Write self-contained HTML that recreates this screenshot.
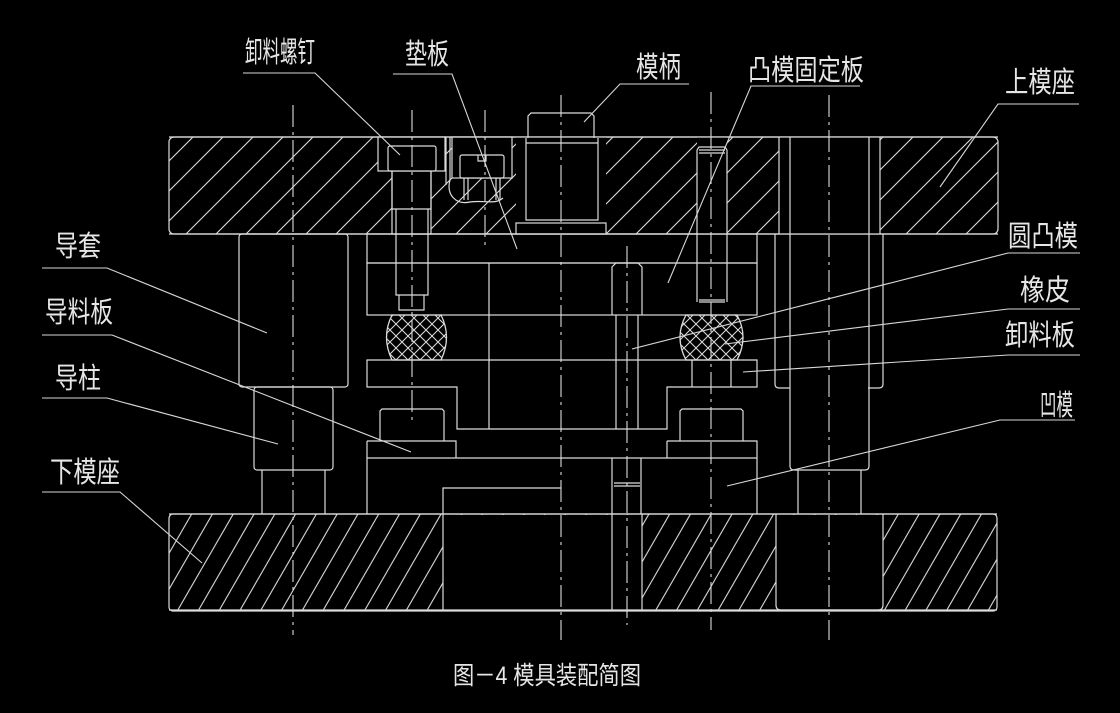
<!DOCTYPE html>
<html><head><meta charset="utf-8"><style>
html,body{margin:0;padding:0;background:#000;}
svg{display:block;}
text{font-family:"Liberation Sans","Noto Sans CJK SC","WenQuanYi Zen Hei",sans-serif;fill:#e6e6e6;font-size:29px;}
</style></head><body>
<svg width="1120" height="713" viewBox="0 0 1120 713" xmlns="http://www.w3.org/2000/svg">
<defs>
<pattern id="h1" patternUnits="userSpaceOnUse" width="30" height="30">
<line x1="-1" y1="31" x2="31" y2="-1" stroke="#ddd" stroke-width="1.1"/>
<line x1="-16" y1="16" x2="16" y2="-16" stroke="#ddd" stroke-width="1.1"/>
<line x1="14" y1="46" x2="46" y2="14" stroke="#ddd" stroke-width="1.1"/>
</pattern>
<pattern id="h2" patternUnits="userSpaceOnUse" width="18" height="40" patternTransform="rotate(30)">
<line x1="9" y1="0" x2="9" y2="40" stroke="#ddd" stroke-width="1.1"/>
</pattern>
<pattern id="x" patternUnits="userSpaceOnUse" width="12" height="12">
<path d="M0 0L12 12M12 0L0 12" stroke="#ddd" stroke-width="1"/>
</pattern>
</defs>
<g stroke="#dcdcdc" stroke-width="1.2" fill="none">
<rect x="169" y="137" width="829" height="97" rx="5" fill="url(#h1)"/>
<rect x="378" y="137" width="67" height="34" fill="#000"/>
<rect x="392" y="171" width="39" height="63" fill="#000"/>
<path d="M446 137V185 M450 137V180" />
<path d="M450 180 C446 195,456 205,470 202 C485 200,495 205,503 198" />
<rect x="452" y="137" width="60" height="41" fill="#000"/>
<rect x="516" y="137" width="90" height="97" fill="#000" stroke="none"/>
<rect x="697" y="137" width="30" height="97" fill="#000" stroke="none"/>
<rect x="779" y="137" width="101" height="97" fill="#000" stroke="none"/>
<path d="M779 137V234 M880 137V234"/>
<line x1="169" y1="137" x2="998" y2="137"/>
<line x1="169" y1="234" x2="998" y2="234"/>
<rect x="388" y="146" width="48" height="25" rx="2" fill="#000"/>
<path d="M392 171V209H431V171 M396 209V295H428V209 M399 295V310H424V295"/>
<rect x="460" y="155" width="44" height="23" rx="2" fill="#000"/>
<path d="M478 155v6h8v-6"/>
<path d="M464 178V200 M500 178V200 M468 178V200 M496 178V200"/>
<path d="M528 138V116l3-3h60l3 3V138"/>
<path d="M526 138V220H598V138 M526 143H598"/>
<rect x="516" y="223" width="90" height="11"/>
<path d="M697 150V302 M727 150V302 M699 150H725 M699 153H725 M699 300H725 M699 302H725 M697 150l2-3h26l2 3"/>
<rect x="239" y="234" width="109" height="153" rx="3"/>
<rect x="254" y="387" width="79" height="83" rx="3"/>
<path d="M262 470V514 M325 470V514"/>
<path d="M775 234V384q0 4 4 4h11 M883 234V384q0 4-4 4h-11"/>
<path d="M790 137V466q0 4 4 4h71q4 0 4-4V137"/>
<path d="M798 470V514 M861 470V514"/>
<rect x="367" y="234" width="390" height="29"/>
<rect x="367" y="263" width="390" height="52"/>
<path d="M489 263V429"/>
<path d="M612 315V267l4-4h22l4 4V315 M616 315V429 M638 315V429"/>
<path d="M367 360H757V387H667V429H457V387H367Z"/>
<path d="M692 360V387 M731 360V387"/>
<path d="M392 315H441Q452 337 441 360H392Q381 337 392 315Z" fill="url(#x)" stroke-width="1.3"/>
<path d="M686 315H737Q749 337 737 360H686Q674 337 686 315Z" fill="url(#x)" stroke-width="1.3"/>
<path d="M380 441V411l2-2h60l2 2V441 M367 441H456V458 M367 441V458"/>
<path d="M680 441V411l2-2h59l2 2V441 M667 441H757V458 M667 441V458"/>
<path d="M367 458H757 M367 458V514 M757 458V514"/>
<path d="M443 514V488H561"/>
<path d="M612 458V514 M641 458V514 M614 483H640 M614 486H640"/>
<rect x="169" y="514" width="828" height="97" rx="4" fill="url(#h2)"/>
<rect x="443" y="515" width="199" height="95" fill="#000" stroke="none"/>
<rect x="776" y="515" width="107" height="95" fill="#000" stroke="none"/>
<path d="M443 514V610 M612 514V610 M642 514V610 M776 514V605q0 5 5 5h97q5 0 5-5V514"/>
<line x1="169" y1="514" x2="997" y2="514"/>
<line x1="169" y1="610" x2="997" y2="610"/>
</g>
<g stroke="#dcdcdc" stroke-width="1.1" stroke-dasharray="22,5,3,5">
<line x1="293" y1="105" x2="293" y2="635"/>
<line x1="412" y1="110" x2="412" y2="420"/>
<line x1="485" y1="110" x2="485" y2="250"/>
<line x1="561" y1="95" x2="561" y2="640"/>
<line x1="627" y1="246" x2="627" y2="625"/>
<line x1="711" y1="92" x2="711" y2="630"/>
<line x1="829" y1="95" x2="829" y2="640"/>
</g>
<g stroke="#d8d8d8" stroke-width="1.1" fill="none">
<path d="M243 73H315L400 155"/>
<path d="M393 74H452L517 249"/>
<path d="M689 84H620L584 122"/>
<path d="M860 86H751L668 283"/>
<path d="M1079 104H998L940 187"/>
<path d="M1080 253H1008L632 349"/>
<path d="M1080 309H1008L725 344"/>
<path d="M1080 355H1008L743 372"/>
<path d="M1075 420H1000L727 486"/>
<path d="M42 268H107L267 333"/>
<path d="M42 335H112L411 452"/>
<path d="M42 398H107L278 444"/>
<path d="M42 492H120L202 563"/>
</g>
<text x="245" y="62" textLength="70" lengthAdjust="spacingAndGlyphs">卸料螺钉</text>
<text x="405" y="64" textLength="44" lengthAdjust="spacingAndGlyphs">垫板</text>
<text x="636" y="77" textLength="45" lengthAdjust="spacingAndGlyphs">模柄</text>
<text x="748" y="80" textLength="116" lengthAdjust="spacingAndGlyphs">凸模固定板</text>
<text x="1005" y="92" textLength="70" lengthAdjust="spacingAndGlyphs">上模座</text>
<text x="1008" y="246" textLength="70" lengthAdjust="spacingAndGlyphs">圆凸模</text>
<text x="1020" y="300" textLength="50" lengthAdjust="spacingAndGlyphs">橡皮</text>
<text x="1005" y="345" textLength="70" lengthAdjust="spacingAndGlyphs">卸料板</text>
<text x="1040" y="415" textLength="33" lengthAdjust="spacingAndGlyphs">凹模</text>
<text x="55" y="256" textLength="46" lengthAdjust="spacingAndGlyphs">导套</text>
<text x="45" y="322" textLength="68" lengthAdjust="spacingAndGlyphs">导料板</text>
<text x="55" y="388" textLength="46" lengthAdjust="spacingAndGlyphs">导柱</text>
<text x="50" y="482" textLength="70" lengthAdjust="spacingAndGlyphs">下模座</text>
<text x="453" y="684" style="font-size:25px" textLength="188" lengthAdjust="spacingAndGlyphs">图－4 模具装配简图</text>
</svg>
</body></html>
